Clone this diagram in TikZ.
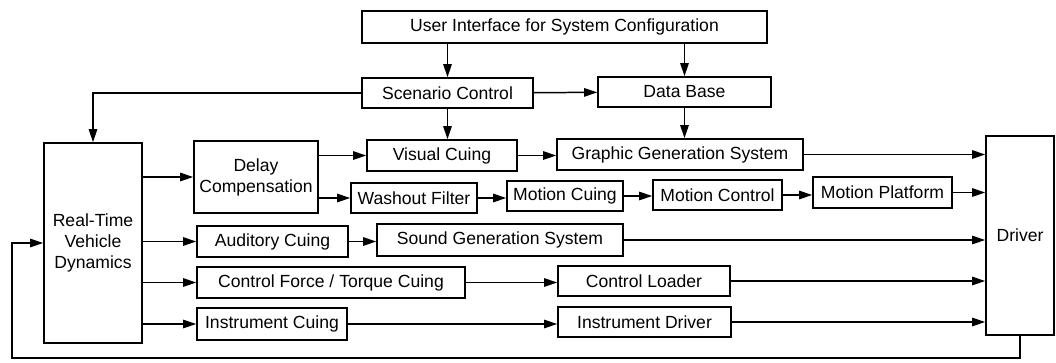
\documentclass[tikz,border=0pt]{standalone}
\usepackage{fontspec}
\setmainfont{Liberation Sans}
\usetikzlibrary{arrows.meta}
\begin{document}
\begin{tikzpicture}[
    box/.style={draw, line width=0.85pt, align=center, inner sep=1pt,
        font=\fontsize{10pt}{12pt}\selectfont},
    arr/.style={line width=0.85pt, -{Triangle[length=7.5pt,width=4.8pt]}}
]
    \useasboundingbox (0,0) rectangle (21.12,-7.24);
    % Configuration and scenario
    \node[box, minimum width=8.10cm, minimum height=0.64cm] (ui) at (11.29,-0.54) {User Interface for System Configuration};
    \node[box, minimum width=3.42cm, minimum height=0.60cm] (sc) at (8.95,-1.86) {Scenario Control};
    \node[box, minimum width=3.46cm, minimum height=0.60cm] (db) at (13.69,-1.84) {Data Base};
    % Vehicle model and driver
    \node[box, minimum width=1.96cm, minimum height=4.00cm] (rtvd) at (1.86,-4.86) {Real-Time\\Vehicle\\Dynamics};
    \node[box, minimum width=1.36cm, minimum height=3.98cm] (drv) at (20.40,-4.71) {Driver};
    % Visual and motion path
    \node[box, minimum width=2.48cm, minimum height=1.44cm] (dc) at (5.12,-3.54) {Delay\\Compensation};
    \node[box, minimum width=3.00cm, minimum height=0.62cm] (vc) at (8.84,-3.11) {Visual Cuing};
    \node[box, minimum width=4.92cm, minimum height=0.62cm] (ggs) at (13.60,-3.09) {Graphic Generation System};
    \node[box, minimum width=2.52cm, minimum height=0.60cm] (wf) at (8.28,-3.96) {Washout Filter};
    \node[box, minimum width=2.32cm, minimum height=0.60cm] (mcu) at (11.30,-3.92) {Motion Cuing};
    \node[box, minimum width=2.58cm, minimum height=0.60cm] (mct) at (14.35,-3.90) {Motion Control};
    \node[box, minimum width=2.78cm, minimum height=0.62cm] (mp) at (17.65,-3.85) {Motion Platform};
    % Sound, control force and instruments
    \node[box, minimum width=3.02cm, minimum height=0.62cm] (ac) at (5.45,-4.83) {Auditory Cuing};
    \node[box, minimum width=4.92cm, minimum height=0.64cm] (sgs) at (10.00,-4.80) {Sound Generation System};
    \node[box, minimum width=5.36cm, minimum height=0.62cm] (cftc) at (6.62,-5.65) {Control Force / Torque Cuing};
    \node[box, minimum width=3.44cm, minimum height=0.60cm] (cl) at (12.88,-5.62) {Control Loader};
    \node[box, minimum width=3.00cm, minimum height=0.64cm] (ic) at (5.44,-6.48) {Instrument Cuing};
    \node[box, minimum width=3.46cm, minimum height=0.60cm] (id) at (12.89,-6.44) {Instrument Driver};
    \coordinate (loop) at (0.24,-7.16);
    % Top connections
    \draw[arr] (ui.south -| sc) -- (sc.north);
    \draw[arr] (ui.south -| db) -- (db.north);
    \draw[arr] (sc) -- (db);
    \draw[arr] (sc.west) -| (rtvd.north);
    \draw[arr] (sc.south) -- (sc.south |- vc.north);
    \draw[arr] (db.south) -- (db.south |- ggs.north);
    % From vehicle dynamics
    \draw[arr] (rtvd.east |- dc.west) -- (dc.west);
    \draw[arr] (rtvd.east |- ac.west) -- (ac.west);
    \draw[arr] (rtvd.east |- cftc.west) -- (cftc.west);
    \draw[arr] (rtvd.east |- ic.west) -- (ic.west);
    % Cuing chains
    \draw[arr] (dc.east |- vc.west) -- (vc.west);
    \draw[arr] (dc.east |- wf.west) -- (wf.west);
    \draw[arr] (vc) -- (vc -| ggs.west);
    \draw[arr] (wf) -- (wf -| mcu.west);
    \draw[arr] (mcu) -- (mcu -| mct.west);
    \draw[arr] (mct) -- (mct -| mp.west);
    \draw[arr] (ac) -- (ac -| sgs.west);
    \draw[arr] (cftc) -- (cftc -| cl.west);
    \draw[arr] (ic) -- (ic -| id.west);
    % Into the driver
    \draw[arr] (ggs) -- (ggs -| drv.west);
    \draw[arr] (mp) -- (mp -| drv.west);
    \draw[arr] (sgs) -- (sgs -| drv.west);
    \draw[arr] (cl) -- (cl -| drv.west);
    \draw[arr] (id) -- (id -| drv.west);
    % Feedback
    \draw[arr] (drv.south) |- (loop) |- (rtvd.west);
\end{tikzpicture}
\end{document}
